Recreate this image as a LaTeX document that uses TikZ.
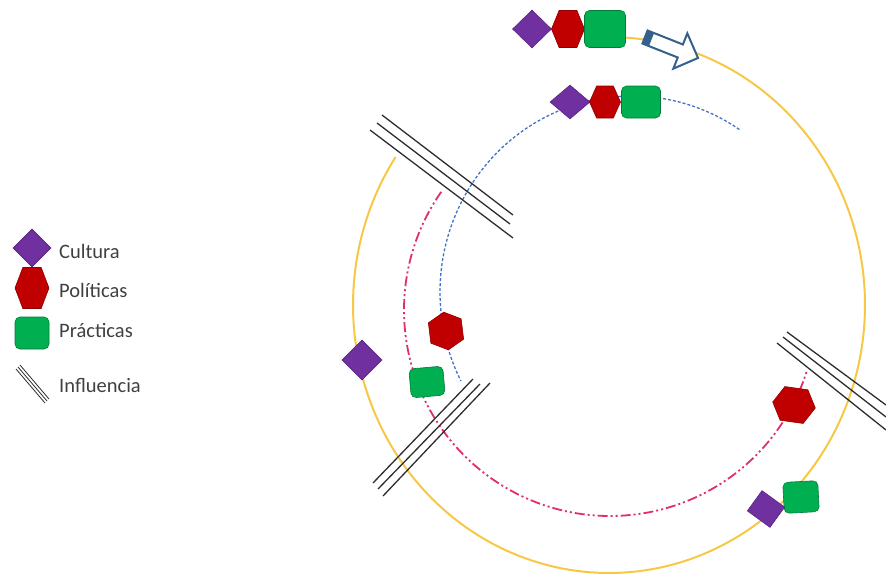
\documentclass[tikz,border=0pt]{standalone}
\usepackage{fontspec}
\setmainfont{Carlito}
\usetikzlibrary{shapes.geometric}
\definecolor{cpurple}{RGB}{112,48,160}
\definecolor{cred}{RGB}{192,0,0}
\definecolor{cgreen}{RGB}{0,176,80}
\definecolor{cyellow}{RGB}{247,200,70}
\definecolor{cblue}{RGB}{68,114,196}
\definecolor{cpink}{RGB}{225,45,110}
\definecolor{carrow}{RGB}{52,96,140}
\definecolor{ctext}{RGB}{64,64,64}
\definecolor{cinfl}{RGB}{45,45,45}
\tikzset{
  cult/.style={diamond, fill=cpurple, draw=cpurple!80!black, line width=0.6pt, inner sep=0pt},
  cultsq/.style={rectangle, fill=cpurple, draw=cpurple!80!black, line width=0.6pt, inner sep=0pt},
  prac/.style={rectangle, rounded corners=5pt, fill=cgreen, draw=cgreen!70!black, line width=0.6pt, inner sep=0pt},
  pol/.style={fill=cred, draw=cred!75!black, line width=0.6pt, line join=miter},
  infl/.style={draw=cinfl, line width=1.3pt},
  legtext/.style={anchor=west, text=ctext, font=\fontsize{20.5}{24}\selectfont, inner sep=0pt},
}
\newcommand{\hexa}[5]{%
  \filldraw[pol, shift={(#1,#2)}, rotate=#5]
    ({-0.5*#3},0) -- ({-0.27*#3},{0.5*#4}) -- ({0.27*#3},{0.5*#4}) --
    ({0.5*#3},0) -- ({0.27*#3},{-0.5*#4}) -- ({-0.27*#3},{-0.5*#4}) -- cycle;}
\begin{document}
\begin{tikzpicture}[x=1pt, y=-1pt]
\useasboundingbox (0,0) rectangle (886,576);
% circles
\draw[cyellow, line width=2pt] plot[domain=146.5:446.9, samples=200] ({609+256*cos(\x)}, {305-268*sin(\x)});
\draw[cblue, line width=1.3pt, dash pattern=on 3pt off 2pt] plot[domain=56:207, samples=150] ({632+192*cos(\x)}, {292-196*sin(\x)});
\draw[cpink, line width=1.8pt, dash pattern=on 10pt off 3pt on 2pt off 3pt on 2pt off 3pt] plot[domain=145:343, samples=160] ({610+206*cos(\x)}, {310-206*sin(\x)});
% influence lines
\coordinate (a1) at (382,115); \coordinate (a2) at (513,215);
\coordinate (b1) at (377,123); \coordinate (b2) at (510,224);
\coordinate (c1) at (370,130); \coordinate (c2) at (513,238);
\draw[infl] (a1) -- (a2); \draw[infl] (b1) -- (b2); \draw[infl] (c1) -- (c2);
\coordinate (d1) at (373,483); \coordinate (d2) at (473,379);
\coordinate (e1) at (378,489); \coordinate (e2) at (480,384);
\coordinate (f1) at (383,496); \coordinate (f2) at (490,383);
\draw[infl] (d1) -- (d2); \draw[infl] (e1) -- (e2); \draw[infl] (f1) -- (f2);
\coordinate (g1) at (787,332); \coordinate (g2) at (886,405);
\coordinate (h1) at (783,337); \coordinate (h2) at (886,417);
\coordinate (i1) at (777,343); \coordinate (i2) at (886,430);
\draw[infl] (g1) -- (g2); \draw[infl] (h1) -- (h2); \draw[infl] (i1) -- (i2);
% arrow
\begin{scope}[shift={(645,37)}, rotate=-21.6]
\draw[carrow, line width=2pt, fill=white, line join=miter] (0,-7) -- (38,-7) -- (38,-19) -- (57,0) -- (38,19) -- (38,7) -- (0,7) -- cycle;
\fill[carrow] (0,-7.5) rectangle (7,7.5);
\end{scope}
% top group 1
\node[cult, minimum width=39pt, minimum height=38pt] (t1c) at (532,29) {};
\hexa{568}{29}{33}{37}{0}
\node[prac, minimum width=41pt, minimum height=37pt] (t1p) at (605,29) {};
% top group 2
\node[cult, minimum width=40pt, minimum height=34pt] (t2c) at (570,102) {};
\hexa{605}{102}{31}{32}{0}
\node[prac, minimum width=39pt, minimum height=32pt] (t2p) at (641,102) {};
% left
\node[cult, minimum width=40pt, minimum height=40pt] (lc) at (362,360) {};
\hexa{446}{331}{38}{33}{-83}
\node[prac, minimum width=34pt, minimum height=29pt, rotate=5] (lp) at (427,382) {};
% right
\hexa{794}{405}{43}{34}{-8}
\node[prac, minimum width=35pt, minimum height=31pt, rotate=3] (rp) at (801,497) {};
\node[cultsq, minimum width=28pt, minimum height=25pt, rotate=-36] (rc) at (766,509) {};
% legend
\node[cult, minimum width=38pt, minimum height=38pt] (lgc) at (32,248) {};
\hexa{32}{288}{34}{41}{0}
\node[prac, minimum width=34pt, minimum height=32pt] (lgp) at (32,333) {};
\coordinate (l1) at (16,369); \coordinate (l2) at (45,403);
\coordinate (l3) at (18,367); \coordinate (l4) at (47,401);
\coordinate (l5) at (20,365); \coordinate (l6) at (49,399);
\draw[cinfl, line width=0.8pt] (l1) -- (l2);
\draw[cinfl, line width=0.8pt] (l3) -- (l4);
\draw[cinfl, line width=0.8pt] (l5) -- (l6);
\node[legtext] (tc) at (59,251) {Cultura};
\node[legtext] (tpo) at (59,290) {Políticas};
\node[legtext] (tpr) at (59,330) {Prácticas};
\node[legtext] (ti) at (59,386) {Influencia};
\end{tikzpicture}
\end{document}
